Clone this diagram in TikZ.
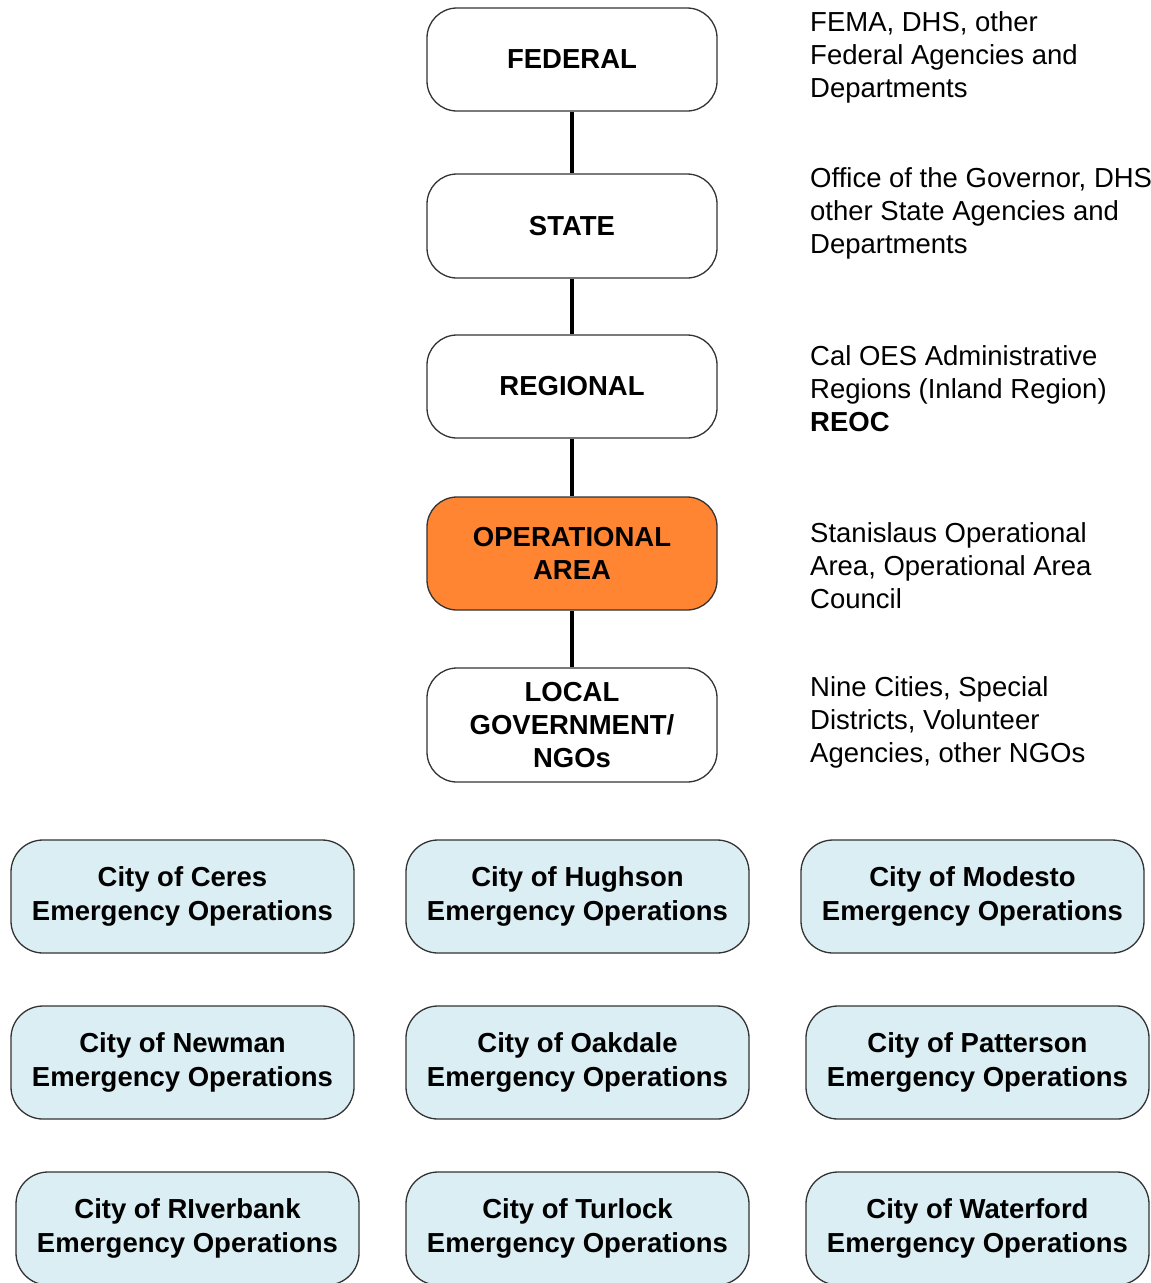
\documentclass[tikz,border=0pt]{standalone}
\usepackage{fontspec}
\setmainfont{Liberation Sans}
\definecolor{oaorange}{HTML}{FF8533}
\definecolor{cityblue}{HTML}{DBEEF3}
\definecolor{edgegray}{HTML}{333333}
\begin{document}
\begin{tikzpicture}[x=1pt,y=-1pt,
  level/.style={draw=edgegray, line width=1.3pt, rounded corners=30pt, fill=white,
    minimum width=290pt, inner sep=0pt, align=center,
    font=\fontsize{27.5}{33}\selectfont\bfseries},
  city/.style={draw=edgegray, line width=1.3pt, rounded corners=32pt, fill=cityblue,
    minimum width=343pt, minimum height=113pt, inner sep=0pt, align=center,
    font=\fontsize{27.5}{34}\selectfont\bfseries},
  note/.style={anchor=west, inner sep=0pt, align=left,
    font=\fontsize{27.5}{33}\selectfont},
  link/.style={line width=4pt, black}]
\useasboundingbox (0,0) rectangle (1151,1283);
\clip (0,0) rectangle (1151,1283);

% hierarchy levels
\node[level, minimum height=103pt] (fed) at (572,59.5) {FEDERAL};
\node[level, minimum height=104pt] (state) at (572,226) {STATE};
\node[level, minimum height=103pt] (reg) at (572,386.5) {REGIONAL};
\node[level, minimum height=113pt, fill=oaorange] (oa) at (572,553.5) {OPERATIONAL\\AREA};
\node[level, minimum height=114pt] (local) at (572,725) {LOCAL\\GOVERNMENT/\\NGOs};

\draw[link] (fed) -- (state);
\draw[link] (state) -- (reg);
\draw[link] (reg) -- (oa);
\draw[link] (oa) -- (local);

% descriptions
\node[note] (nfed) at (810,57) {FEMA, DHS, other\\Federal Agencies and\\Departments};
\node[note] (nstate) at (810,213) {Office of the Governor, DHS,\\other State Agencies and\\Departments};
\node[note] (nreg) at (810,389) {Cal OES Administrative\\Regions (Inland Region)\\\textbf{REOC}};
\node[note] (noa) at (810,566) {Stanislaus Operational\\Area, Operational Area\\Council};
\node[note] (nlocal) at (810,722) {Nine Cities, Special\\Districts, Volunteer\\Agencies, other NGOs};

% city emergency operations
\node[city] (ceres) at (182.5,896.5) {City of Ceres\\Emergency Operations};
\node[city] (hughson) at (577.5,896.5) {City of Hughson\\Emergency Operations};
\node[city] (modesto) at (972.5,896.5) {City of Modesto\\Emergency Operations};
\node[city] (newman) at (182.5,1062.5) {City of Newman\\Emergency Operations};
\node[city] (oakdale) at (577.5,1062.5) {City of Oakdale\\Emergency Operations};
\node[city] (patterson) at (977.5,1062.5) {City of Patterson\\Emergency Operations};
\node[city] (riverbank) at (187.5,1228.5) {City of RIverbank\\Emergency Operations};
\node[city] (turlock) at (577.5,1228.5) {City of Turlock\\Emergency Operations};
\node[city] (waterford) at (977.5,1228.5) {City of Waterford\\Emergency Operations};
\end{tikzpicture}
\end{document}
